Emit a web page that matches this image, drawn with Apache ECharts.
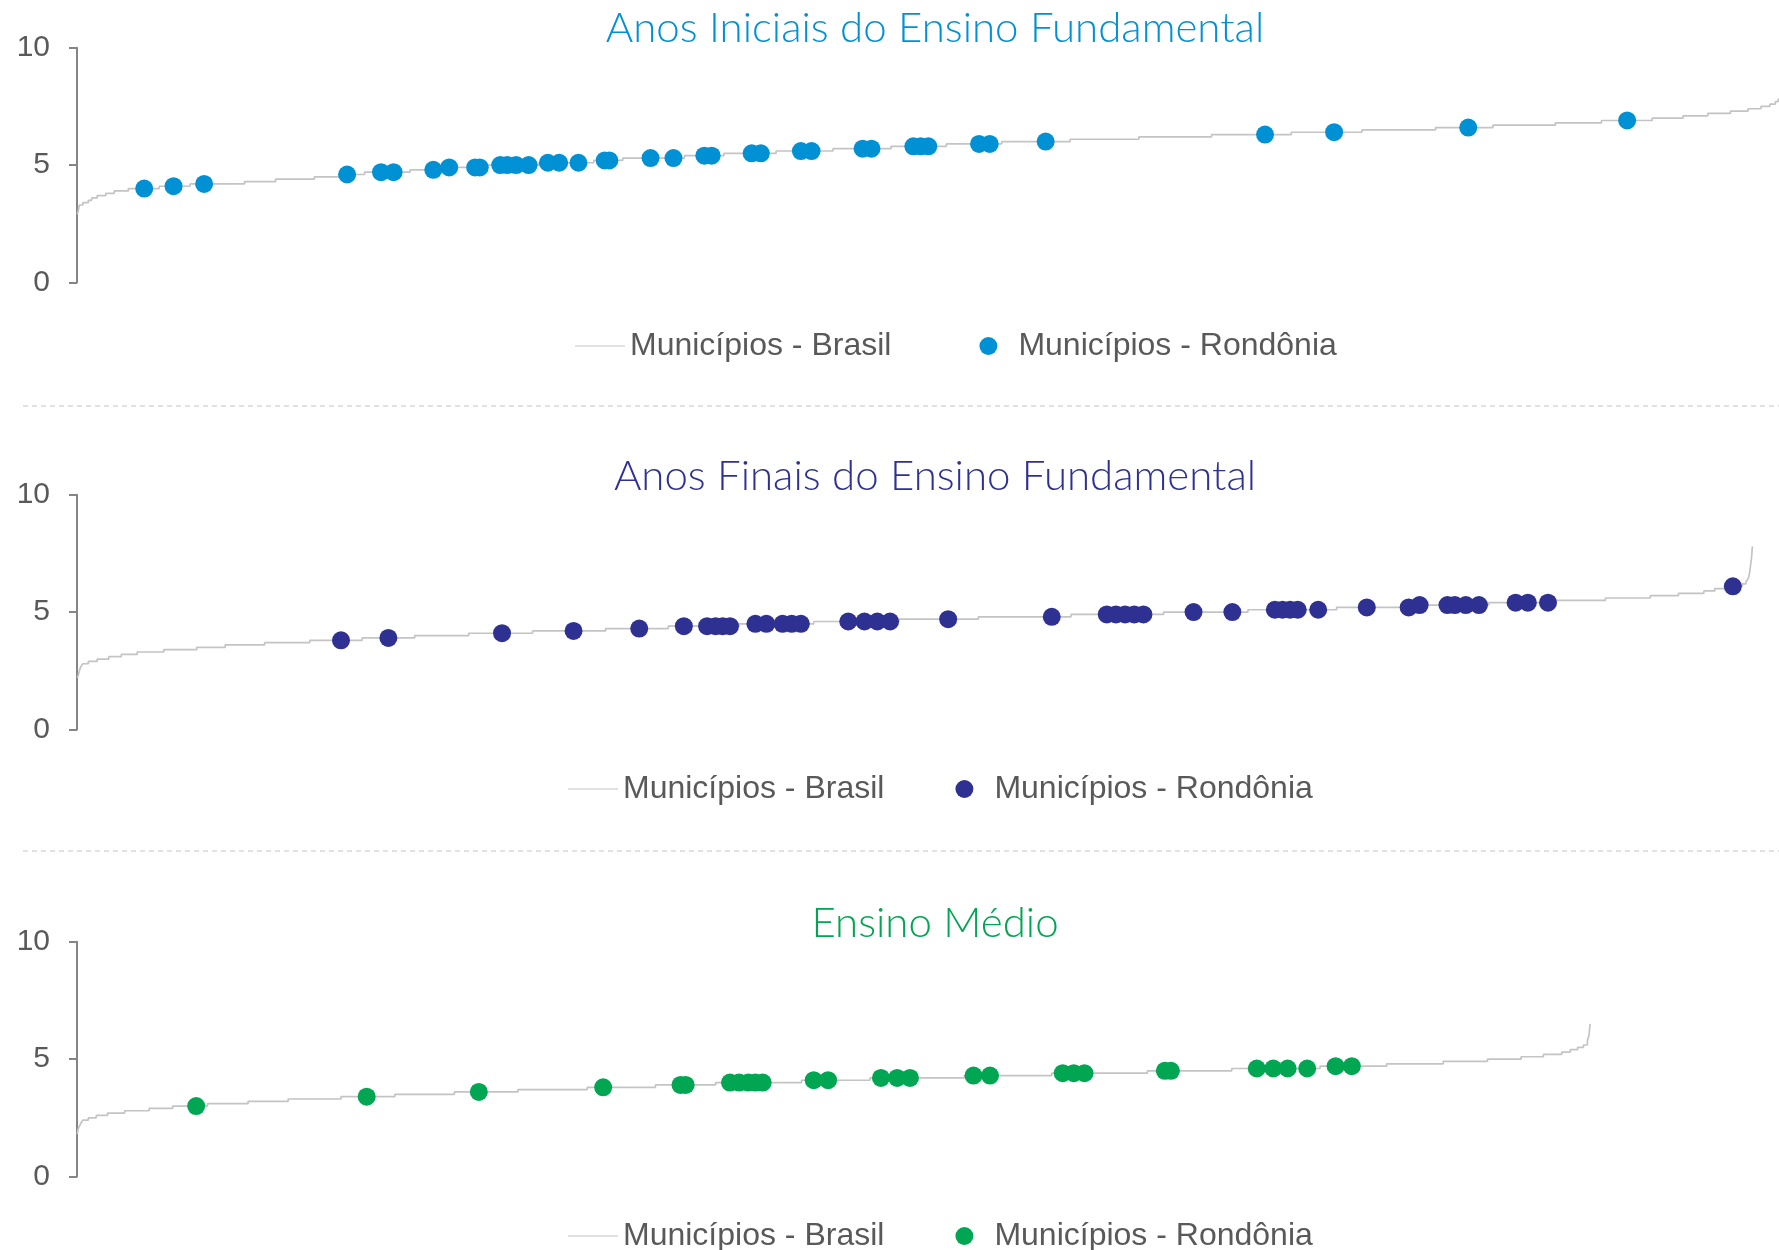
<!DOCTYPE html>
<html>
<head>
<meta charset="utf-8">
<script src="https://cdn.jsdelivr.net/npm/echarts@6/dist/echarts.min.js"></script>
<style>
html,body{margin:0;padding:0;background:#fff;}
#c{width:1779px;height:1250px;}
</style>
</head>
<body>
<div id="c"></div>
<script>
// ---------- DATA ----------
const panelTitles = ['Anos Iniciais do Ensino Fundamental', 'Anos Finais do Ensino Fundamental', 'Ensino Médio'];
const seriesNames = ['Municípios - Brasil', 'Municípios - Rondônia'];
const yTicks = [0, 5, 10];
const totalMunicipios = 5570;

// Brasil: sorted municipal scores, as [rank where a new 0.1 step begins, score]
const brasilRankAI = [1,3,5,6,8,19,37,48,66,94,122,168,269,370,548,650,777,858,941,1090,1203,1346,1512,1691,1786,1988,2117,2288,2474,2664,2845,3026,3250,3475,3713,3974,4205,4446,4634,4838,4989,5155,5256,5337,5411,5469,5511,5540,5558,5567,5570];
const brasilScoreAI = [2.9,3.0,3.1,3.2,3.3,3.4,3.5,3.6,3.7,3.8,3.9,4.0,4.1,4.2,4.3,4.4,4.5,4.6,4.7,4.8,4.9,5.0,5.1,5.2,5.3,5.4,5.5,5.6,5.7,5.8,5.9,6.0,6.1,6.2,6.3,6.4,6.5,6.6,6.7,6.8,6.9,7.0,7.1,7.2,7.3,7.4,7.5,7.6,7.7,7.8,7.8];

const brasilRankAF = [1,4,6,8,10,14,19,37,66,104,145,197,284,392,485,614,762,933,1105,1282,1491,1730,1935,2167,2411,2690,2950,3253,3556,3832,4122,4376,4620,4841,5002,5149,5241,5324,5360,5397,5450,5462,5468,5471,5474,5477,5480,5483,5485];
const brasilScoreAF = [2.2,2.3,2.4,2.5,2.6,2.7,2.8,2.9,3.0,3.1,3.2,3.3,3.4,3.5,3.6,3.7,3.8,3.9,4.0,4.1,4.2,4.3,4.4,4.5,4.6,4.7,4.8,4.9,5.0,5.1,5.2,5.3,5.4,5.5,5.6,5.7,5.8,5.9,6.0,6.1,6.2,6.3,6.4,6.5,6.7,7.0,7.3,7.8,7.8];

const brasilRankEM = [1,3,6,10,14,19,37,63,100,156,236,313,427,560,691,864,1040,1235,1443,1670,1893,2090,2371,2595,2904,3190,3503,3779,4068,4286,4471,4616,4726,4799,4859,4887,4911,4930,4943,4948,4952];
const brasilScoreEM = [1.8,2.0,2.1,2.2,2.3,2.4,2.5,2.6,2.7,2.8,2.9,3.0,3.1,3.2,3.3,3.4,3.5,3.6,3.7,3.8,3.9,4.0,4.1,4.2,4.3,4.4,4.5,4.6,4.7,4.8,4.9,5.0,5.1,5.2,5.3,5.4,5.5,5.6,5.8,6.0,6.5];

// Rondônia municipalities: rank within Brasil, score
const roRankAI = [220,316,416,884,995,1036,1166,1218,1303,1318,1385,1408,1437,1478,1541,1578,1641,1727,1742,1877,1952,2053,2077,2208,2238,2369,2404,2571,2600,2737,2761,2786,2952,2987,3170,3888,4114,4553,5073];
const roScoreAI = [4.0,4.1,4.2,4.6,4.7,4.7,4.8,4.9,4.9,4.9,5.0,5.0,5.0,5.0,5.1,5.1,5.1,5.2,5.2,5.3,5.3,5.4,5.4,5.5,5.5,5.6,5.6,5.7,5.7,5.8,5.8,5.8,5.9,5.9,6.0,6.3,6.4,6.6,6.9];

const roRankAF = [864,1019,1391,1625,1840,1986,2062,2090,2113,2137,2220,2256,2309,2339,2369,2524,2577,2619,2661,2851,3190,3370,3400,3430,3460,3490,3654,3781,3920,3945,3970,3995,4062,4221,4358,4394,4485,4509,4545,4588,4708,4748,4814,5419];
const roScoreAF = [3.8,3.9,4.1,4.2,4.3,4.4,4.4,4.4,4.4,4.4,4.5,4.5,4.5,4.5,4.5,4.6,4.6,4.6,4.6,4.7,4.8,4.9,4.9,4.9,4.9,4.9,5.0,5.0,5.1,5.1,5.1,5.1,5.1,5.2,5.2,5.3,5.3,5.3,5.3,5.3,5.4,5.4,5.4,6.1];

const roRankEM = [390,948,1315,1722,1975,1992,2137,2167,2197,2220,2244,2411,2458,2631,2684,2726,2934,2988,3226,3262,3297,3560,3580,3861,3915,3962,4026,4119,4172];
const roScoreEM = [3.0,3.4,3.6,3.8,3.9,3.9,4.0,4.0,4.0,4.0,4.0,4.1,4.1,4.2,4.2,4.2,4.3,4.3,4.4,4.4,4.4,4.5,4.5,4.6,4.6,4.6,4.6,4.7,4.7];

// ---------- STYLE / LAYOUT ----------
const colors = ['#0091D5', '#2E3192', '#00A651'];
const lineGray = '#C4C4C4';
const gridTops = [47.7, 494.7, 941.7];
const gridH = 234.8;
const titleCenters = [28.5, 476.5, 923.5];
const legendLefts = [570, 563, 563];
const legendGaps = [88, 71, 71];
const legendTops = [325, 768, 1215];
const sepYs = [406, 851];

const pairs = (xs, ys) => xs.map((x, i) => [x, ys[i]]);
const brasil = [pairs(brasilRankAI, brasilScoreAI), pairs(brasilRankAF, brasilScoreAF), pairs(brasilRankEM, brasilScoreEM)];
const ro = [pairs(roRankAI, roScoreAI), pairs(roRankAF, roScoreAF), pairs(roRankEM, roScoreEM)];

const labelFont = '"Liberation Sans", Arial, sans-serif';
const titleSize = 42;

const option = {
  animation: false,
  backgroundColor: '#fff',
  title: panelTitles.map((t, i) => ({
    text: t,
    left: 930,
    top: titleCenters[i] - titleSize * 0.62,
    textAlign: 'center',
    textStyle: { color: colors[i], fontSize: titleSize, fontWeight: 300, fontFamily: 'Lato, "Open Sans", sans-serif' }
  })),
  legend: [0, 1, 2].map(i => ({
    left: legendLefts[i],
    top: legendTops[i],
    itemWidth: 50,
    itemHeight: 18,
    itemGap: legendGaps[i],
    selectedMode: false,
    textStyle: { color: '#595959', fontSize: 32, fontFamily: labelFont },
    data: [
      { name: seriesNames[0], icon: 'path://M0,0 L50,0 L50,1 L0,1 Z', itemStyle: { color: lineGray } },
      { name: seriesNames[1], icon: 'circle', itemStyle: { color: colors[i] } }
    ]
  })),
  grid: gridTops.map(t => ({ left: 77, right: 0, top: t, height: gridH })),
  xAxis: [0, 1, 2].map(i => ({ gridIndex: i, type: 'value', min: 0, max: totalMunicipios, show: false })),
  yAxis: [0, 1, 2].map(i => ({
    gridIndex: i, type: 'value', min: yTicks[0], max: yTicks[2], interval: yTicks[1] - yTicks[0],
    axisLine: { show: true, lineStyle: { color: '#858585', width: 2 } },
    axisTick: { show: true, length: 8, lineStyle: { color: '#858585', width: 2 } },
    splitLine: { show: false },
    axisLabel: { margin: 27, color: '#595959', fontSize: 30, fontFamily: labelFont }
  })),
  series: [].concat(...[0, 1, 2].map(i => [
    {
      name: seriesNames[0], type: 'line', xAxisIndex: i, yAxisIndex: i,
      data: brasil[i], step: 'end', symbol: 'none', showSymbol: false,
      lineStyle: { color: lineGray, width: 1.7 }, itemStyle: { color: lineGray }, z: 1
    },
    {
      name: seriesNames[1], type: 'scatter', xAxisIndex: i, yAxisIndex: i,
      data: ro[i], symbol: 'circle', symbolSize: 18,
      itemStyle: { color: colors[i], opacity: 1 }, z: 3
    }
  ])),
  graphic: sepYs.map(y => ({
    type: 'line', shape: { x1: 23, y1: y, x2: 1779, y2: y },
    style: { stroke: '#D9D9D9', lineWidth: 1.5, lineDash: [5, 4] }, silent: true
  }))
};

const chart = echarts.init(document.getElementById('c'));
chart.setOption(option);
</script>
</body>
</html>
